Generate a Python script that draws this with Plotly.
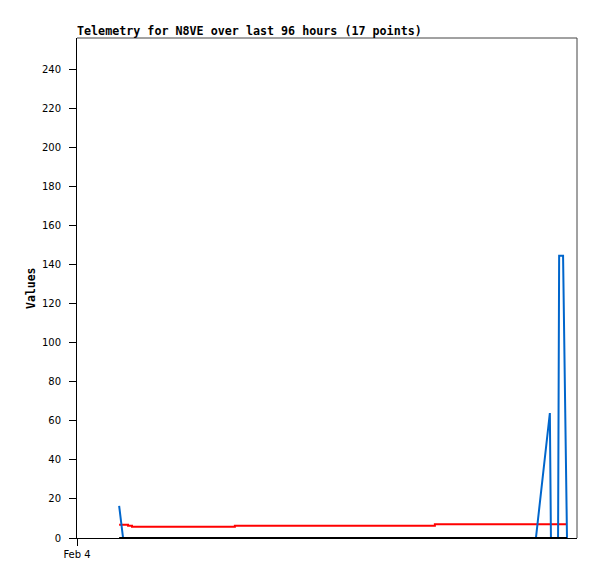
import plotly.graph_objects as go

times = [
    "2024-02-04 01:58", "2024-02-04 02:09", "2024-02-04 02:23", "2024-02-04 02:34",
    "2024-02-04 07:22", "2024-02-04 10:24", "2024-02-04 14:08", "2024-02-04 16:42",
    "2024-02-04 18:48", "2024-02-04 20:40", "2024-02-04 21:25", "2024-02-04 22:04",
    "2024-02-04 22:07", "2024-02-04 22:27", "2024-02-04 22:30", "2024-02-04 22:41",
    "2024-02-04 22:52",
]
blue_vals = [16.5, 0, 0, 0, 0, 0, 0, 0, 0, 0, 0, 64, 0, 0, 144.5, 144.5, 0]
red_vals = [6.8, 6.8, 6.3, 5.8, 6.3, 6.3, 6.3, 7.0, 7.0, 7.0, 7.0, 7.0, 7.0, 7.0, 7.0, 7.0, 7.0]
black_vals = [0] * 17

x_tick_vals = ["2024-02-04 00:00"]
x_tick_text = ["Feb 4"]
y_tick_vals = list(range(0, 241, 20))

W, H = 589, 571

fig = go.Figure()
fig.add_trace(go.Scatter(x=times, y=red_vals, mode="lines", line=dict(color="#ff0000", width=2, shape="hv"), showlegend=False))
fig.add_trace(go.Scatter(x=times, y=blue_vals, mode="lines", line=dict(color="#0066cc", width=2), showlegend=False))
fig.add_trace(go.Scatter(x=times, y=black_vals, mode="lines", line=dict(color="#000000", width=2), showlegend=False))

fig.update_layout(
    width=W, height=H,
    margin=dict(l=69, r=20, t=30, b=41),
    paper_bgcolor="white", plot_bgcolor="white",
    title=dict(text="<b>Telemetry for N8VE over last 96 hours (17 points)</b>",
               font=dict(family="DejaVu Sans Mono", size=11.7, color="black"),
               xref="paper", x=0, xanchor="left", yref="container", y=1 - 23 / H, yanchor="middle"),
    xaxis=dict(type="date", range=["2024-02-04 00:00", "2024-02-04 23:20"],
               tickvals=x_tick_vals, ticktext=x_tick_text,
               ticks="outside", ticklen=7, tickcolor="black", tickwidth=1,
               showline=True, linecolor="black", linewidth=1, showgrid=False, zeroline=False,
               tickfont=dict(family="DejaVu Sans", size=10, color="black")),
    yaxis=dict(range=[0, 256], tickvals=y_tick_vals,
               ticks="outside", ticklen=7, tickcolor="black", tickwidth=1,
               showline=True, linecolor="black", linewidth=1, showgrid=False, zeroline=False,
               ticklabelstandoff=6,
               tickfont=dict(family="DejaVu Sans", size=10, color="black")),
    shapes=[
        dict(type="line", xref="paper", yref="paper", x0=0, x1=1, y0=1, y1=1, line=dict(color="#444444", width=1)),
        dict(type="line", xref="paper", yref="paper", x0=1, x1=1, y0=0, y1=1, line=dict(color="#444444", width=1)),
    ],
    annotations=[
        dict(text="<b>Values</b>", xref="paper", yref="paper", x=(31 - 77) / 500, y=0.5,
             xanchor="center", yanchor="middle", textangle=-90, showarrow=False,
             font=dict(family="DejaVu Sans Mono", size=11.5, color="black")),
    ],
)

fig.write_html("out.html")
